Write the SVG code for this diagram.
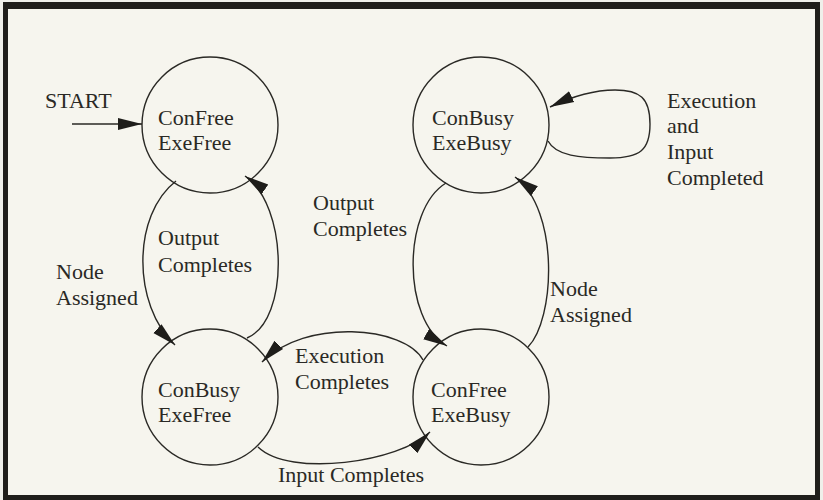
<svg xmlns="http://www.w3.org/2000/svg" width="823" height="500" viewBox="0 0 823 500">
  <style>
    text { font-family: "Liberation Serif", "Times New Roman", serif; font-size: 22px; fill: #2a2925; }
    .state { fill: none; stroke: #2a2925; stroke-width: 1.4; }
    .edge { fill: none; stroke: #2a2925; stroke-width: 1.4; marker-end: url(#arrow); }
  </style>
  <defs>
    <marker id="arrow" markerUnits="userSpaceOnUse" markerWidth="26" markerHeight="16" viewBox="0 0 26 16" refX="24" refY="8" orient="auto">
      <path d="M0,2 L24,8 L0,14 Z" fill="#1e1d1a"/>
    </marker>
  </defs>

  <!-- page and frame -->
  <rect x="0" y="0" width="823" height="500" fill="#efefea"/>
  <rect x="3" y="2" width="817" height="498" fill="#1f1e1b"/>
  <rect x="8" y="9" width="807" height="486" fill="#f6f5ee"/>

  <!-- states -->
  <g id="s-confree-exefree">
    <circle class="state" cx="210" cy="125" r="68"/>
    <text x="158" y="125">ConFree</text>
    <text x="158" y="150">ExeFree</text>
  </g>
  <g id="s-conbusy-exefree">
    <circle class="state" cx="210" cy="397" r="68"/>
    <text x="158" y="397">ConBusy</text>
    <text x="158" y="422">ExeFree</text>
  </g>
  <g id="s-conbusy-exebusy">
    <circle class="state" cx="481" cy="125" r="68"/>
    <text x="432" y="125">ConBusy</text>
    <text x="432" y="150">ExeBusy</text>
  </g>
  <g id="s-confree-exebusy">
    <circle class="state" cx="481" cy="397" r="68"/>
    <text x="431" y="397">ConFree</text>
    <text x="431" y="422">ExeBusy</text>
  </g>

  <!-- transitions -->
  <g id="transitions">
    <path class="edge" d="M72,124 L142,124"/>
    <text x="45" y="108">START</text>

    <path class="edge" d="M176,181 C132,215 132,305 175,345"/>
    <text x="56" y="279">Node</text>
    <text x="56" y="305">Assigned</text>

    <path class="edge" d="M247,338 C290,320 288,205 245,176"/>
    <text x="158" y="245">Output</text>
    <text x="158" y="272">Completes</text>

    <path class="edge" d="M258,447 C290,478 400,462 430,432"/>
    <text x="278" y="482">Input Completes</text>

    <path class="edge" d="M423,360 C405,326 305,318 262,362"/>
    <text x="295" y="363">Execution</text>
    <text x="295" y="389">Completes</text>

    <path class="edge" d="M446,183 C402,210 402,320 447,346"/>
    <text x="313" y="210">Output</text>
    <text x="313" y="236">Completes</text>

    <path class="edge" d="M528,347 C555,320 560,210 515,177"/>
    <text x="550" y="296">Node</text>
    <text x="550" y="322">Assigned</text>

    <path class="edge" d="M548,141 C556,156 580,158 610,158 C640,158 650,150 650,124 C650,98 640,90 615,90 C595,90 575,95 550,107"/>
    <text x="667" y="108">Execution</text>
    <text x="667" y="133">and</text>
    <text x="667" y="159">Input</text>
    <text x="667" y="185">Completed</text>
  </g>
</svg>
